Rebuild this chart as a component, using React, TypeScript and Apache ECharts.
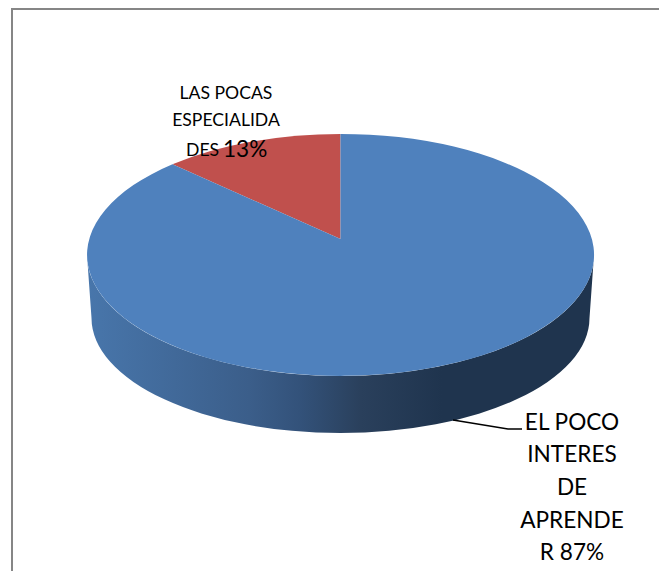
import React, { useEffect, useRef } from "react";
import * as echarts from "echarts";

const categories = ["LAS POCAS ESPECIALIDADES", "EL POCO INTERES DE APRENDER"];
const values = [13, 87];
const sliceColors = ["#c0504d", "#4f81bd"];
const smallLabelLines = ["LAS POCAS", "ESPECIALIDA"];
const smallLabelLast = "DES";
const smallLabelPct = "13%";
const bigLabelLines = ["EL POCO", "INTERES", "DE", "APRENDE", "R 87%"];

// perspective disc: apex of the pie and projection of the unit circle
const APEX = { x: 340.5, y: 239 };
const A = 251.3;
const B = 119;
const K = 0.132;
const project = (turn: number) => {
  const a = turn * 2 * Math.PI;
  const u = -Math.sin(a);
  const v = -Math.cos(a);
  const w = 1 - K * v;
  return [APEX.x + (A * u) / w, APEX.y + (B * v) / w];
};
const TOP = { cx: 340.5, cy: 255, rx: 253.5, ry: 121 };
const BOT = { cx: 340.5, cy: 318, rx: 249, ry: 115 };

function sectorPath(startTurn: number, endTurn: number) {
  const p = project(startTurn);
  const q = project(endTurn);
  const large = endTurn - startTurn > 0.5 ? 1 : 0;
  return `M${APEX.x} ${APEX.y}L${p[0]} ${p[1]}A${TOP.rx} ${TOP.ry} 0 ${large} 0 ${q[0]} ${q[1]}Z`;
}
const sidePath =
  `M${TOP.cx - TOP.rx} ${TOP.cy}A${TOP.rx} ${TOP.ry} 0 0 0 ${TOP.cx + TOP.rx} ${TOP.cy}` +
  `L${BOT.cx + BOT.rx} ${BOT.cy}A${BOT.rx} ${BOT.ry} 0 0 1 ${BOT.cx - BOT.rx} ${BOT.cy}Z`;

const total = values.reduce((s, v) => s + v, 0);

export default function App() {
  const ref = useRef<HTMLDivElement>(null);
  useEffect(() => {
    document.body.style.margin = "0";
    const chart = echarts.init(ref.current!, undefined, { renderer: "svg" });
    const FONT = "Lato";
    chart.setOption({
      animation: false,
      backgroundColor: "#ffffff",
      series: [
        {
          type: "custom",
          coordinateSystem: "none",
          silent: true,
          data: values.map((v, i) => ({ name: categories[i], value: v })),
          renderItem: (params: any, api: any) => {
            const i = params.dataIndex;
            const before = values.slice(0, i).reduce((s, v) => s + v, 0);
            const val = api.value(0) as number;
            const children: any[] = [];
            if (i === values.length - 1) {
              children.push({
                type: "path",
                shape: { pathData: sidePath },
                style: {
                  fill: new echarts.graphic.LinearGradient(
                    87, 0, 594, 0,
                    [
                      { offset: 0, color: "#4876ab" },
                      { offset: 0.32, color: "#3b5e8a" },
                      { offset: 0.42, color: "#33527a" },
                      { offset: 0.54, color: "#2a405c" },
                      { offset: 0.7, color: "#1f344e" },
                      { offset: 1, color: "#1f344e" },
                    ],
                    true
                  ),
                },
              });
            }
            children.push({
              type: "path",
              shape: { pathData: sectorPath(before / total, (before + val) / total) },
              style: { fill: sliceColors[i] },
            });
            return { type: "group", children };
          },
        },
      ],
      graphic: [
        {
          type: "rect",
          z: -1,
          shape: { x: 12, y: 9, width: 660, height: 580 },
          style: { fill: "#ffffff", stroke: "#868686", lineWidth: 2 },
        },
        {
          type: "polyline",
          z: 10,
          shape: { points: [[453, 420], [508, 429], [522, 429]] },
          style: { stroke: "#000000", lineWidth: 1.5, fill: "none" },
        },
        ...smallLabelLines.map((t, i) => ({
          type: "text",
          z: 10,
          style: {
            text: t,
            x: 226,
            y: 92 + i * 27,
            align: "center",
            verticalAlign: "middle",
            font: `17.6px ${FONT}`,
            fill: "#000000",
          },
        })),
        {
          type: "text",
          z: 10,
          style: {
            text: smallLabelLast,
            x: 186,
            y: 149,
            align: "left",
            verticalAlign: "middle",
            font: `17.6px ${FONT}`,
            fill: "#000000",
          },
        },
        {
          type: "text",
          z: 10,
          style: {
            text: smallLabelPct,
            x: 223,
            y: 148,
            align: "left",
            verticalAlign: "middle",
            font: `22.6px ${FONT}`,
            fill: "#000000",
          },
        },
        ...bigLabelLines.map((t, i) => ({
          type: "text",
          z: 10,
          style: {
            text: t,
            x: 572,
            y: 421 + i * 32.7,
            align: "center",
            verticalAlign: "middle",
            font: `22.6px ${FONT}`,
            fill: "#000000",
          },
        })),
      ],
    });
    return () => chart.dispose();
  }, []);
  return (
    <div
      ref={ref}
      style={{ position: "absolute", left: 0, top: 0, width: 659, height: 571, overflow: "hidden" }}
    />
  );
}
